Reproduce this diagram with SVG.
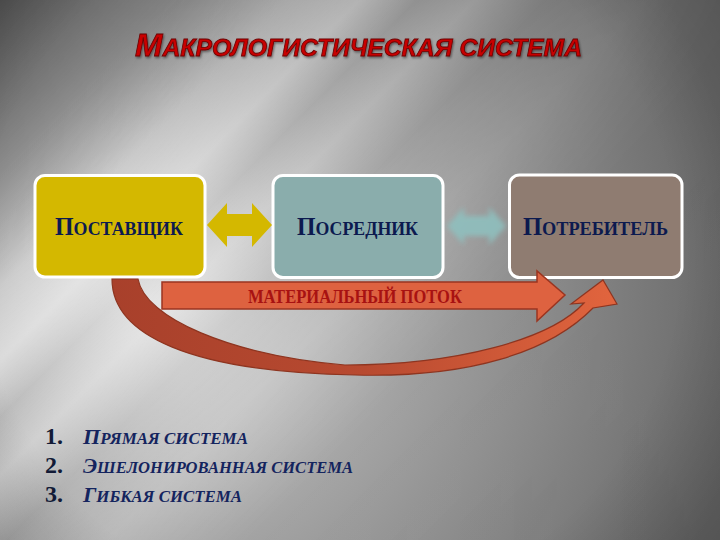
<svg xmlns="http://www.w3.org/2000/svg" width="720" height="540" viewBox="0 0 720 540">
  <defs>
    <radialGradient id="bgBase" cx="150" cy="300" r="600" gradientUnits="userSpaceOnUse">
      <stop offset="0" stop-color="#dcdcdc"/>
      <stop offset="0.4" stop-color="#a6a6a6"/>
      <stop offset="1" stop-color="#666666"/>
    </radialGradient>
    <linearGradient id="stripes" x1="0" y1="0" x2="720" y2="720" gradientUnits="userSpaceOnUse">
      <stop offset="0" stop-color="#000" stop-opacity="0.45"/>
      <stop offset="0.12" stop-color="#000" stop-opacity="0.2"/>
      <stop offset="0.2" stop-color="#fff" stop-opacity="0.25"/>
      <stop offset="0.25" stop-color="#fff" stop-opacity="0.5"/>
      <stop offset="0.29" stop-color="#fff" stop-opacity="0.12"/>
      <stop offset="0.33" stop-color="#fff" stop-opacity="0.4"/>
      <stop offset="0.38" stop-color="#fff" stop-opacity="0.08"/>
      <stop offset="0.45" stop-color="#fff" stop-opacity="0.25"/>
      <stop offset="0.55" stop-color="#fff" stop-opacity="0"/>
      <stop offset="1" stop-color="#000" stop-opacity="0.1"/>
    </linearGradient>
    <linearGradient id="fadeX" x1="0" y1="0" x2="1" y2="0">
      <stop offset="0" stop-color="#fff"/>
      <stop offset="0.55" stop-color="#fff" stop-opacity="0.6"/>
      <stop offset="1" stop-color="#fff" stop-opacity="0.1"/>
    </linearGradient>
    <mask id="stripeMask">
      <rect width="720" height="540" fill="url(#fadeX)"/>
    </mask>
    <radialGradient id="vignette" cx="330" cy="260" r="580" gradientUnits="userSpaceOnUse">
      <stop offset="0.6" stop-color="#000" stop-opacity="0"/>
      <stop offset="1" stop-color="#000" stop-opacity="0.3"/>
    </radialGradient>
    <linearGradient id="curveFill" x1="110" y1="0" x2="620" y2="0" gradientUnits="userSpaceOnUse">
      <stop offset="0" stop-color="#a8402b"/>
      <stop offset="0.5" stop-color="#b84a30"/>
      <stop offset="1" stop-color="#e2653e"/>
    </linearGradient>
    <filter id="soft" x="-20%" y="-20%" width="140%" height="140%">
      <feGaussianBlur stdDeviation="2.5"/>
    </filter>
    <filter id="shadow" x="-10%" y="-10%" width="120%" height="130%">
      <feDropShadow dx="1" dy="1.5" stdDeviation="1" flood-color="#000" flood-opacity="0.45"/>
    </filter>
  </defs>
  <style>
    .box { stroke: #ffffff; stroke-width: 3; }
    .lbl { font-family: "Liberation Serif", "DejaVu Serif", serif; font-weight: bold; fill: #0c1a4f; }
    .title { font-family: "Liberation Sans", "DejaVu Sans", sans-serif; font-weight: bold; font-style: italic; fill: #c80000; stroke: #6a0000; stroke-width: 0.8; }
    .item { font-family: "Liberation Serif", "DejaVu Serif", serif; font-weight: bold; font-style: italic; fill: #14245e; }
    .num { font-family: "Liberation Serif", "DejaVu Serif", serif; font-weight: bold; fill: #121a36; font-size: 24px; }
    .flow { fill: #de6240; stroke: #9b3520; stroke-width: 1.5; }
  </style>

  <!-- background -->
  <rect width="720" height="540" fill="url(#bgBase)"/>
  <rect width="720" height="540" fill="url(#stripes)" mask="url(#stripeMask)"/>
  <rect width="720" height="540" fill="url(#vignette)"/>

  <!-- title -->
  <text class="title" x="135" y="56" textLength="447" lengthAdjust="spacingAndGlyphs" filter="url(#shadow)"><tspan font-size="32">М</tspan><tspan font-size="24">АКРОЛОГИСТИЧЕСКАЯ СИСТЕМА</tspan></text>

  <!-- nodes -->
  <g id="node-postavshchik">
    <rect class="box" x="35" y="175.5" width="170" height="101.5" rx="10" fill="#d4b800"/>
    <text class="lbl" x="55" y="235" textLength="128" lengthAdjust="spacingAndGlyphs"><tspan font-size="26">П</tspan><tspan font-size="19.5">ОСТАВЩИК</tspan></text>
  </g>
  <g id="node-posrednik">
    <rect class="box" x="273" y="175.5" width="170" height="102" rx="10" fill="#8aadac"/>
    <text class="lbl" x="297" y="235" textLength="121" lengthAdjust="spacingAndGlyphs"><tspan font-size="26">П</tspan><tspan font-size="19.5">ОСРЕДНИК</tspan></text>
  </g>
  <g id="node-potrebitel">
    <rect class="box" x="509.5" y="175" width="172.5" height="102.5" rx="10" fill="#8f7c71"/>
    <text class="lbl" x="523" y="235" textLength="145" lengthAdjust="spacingAndGlyphs"><tspan font-size="26">П</tspan><tspan font-size="19.5">ОТРЕБИТЕЛЬ</tspan></text>
  </g>

  <!-- connectors -->
  <g id="connectors">
    <path id="dbl-yellow" d="M207,225 L227,203 L227,214 L252,214 L252,203 L272,225 L252,247 L252,236 L227,236 L227,247 Z" fill="#d4b800"/>
    <path id="dbl-teal" d="M447,226 L464,207 L464,216 L489,216 L489,207 L506,226 L489,245 L489,236 L464,236 L464,245 Z" fill="#8fbfbe" filter="url(#soft)" opacity="0.9"/>
    <path id="curve" d="M112,279 C112,335 190,372 355,375 C470,378 550,352 593,308 L617,304 L603,280 L571,304 L584,303 C550,340 455,365 345,365 C230,355 145,318 138,279 Z" fill="url(#curveFill)" stroke="#8e3520" stroke-width="1.2"/>
    <path id="flow" class="flow" d="M162,282 L537,282 L537,271 L565,295 L537,321 L537,309 L162,309 Z"/>
    <text x="248" y="303" font-family="Liberation Serif, DejaVu Serif, serif" font-weight="bold" font-size="19" fill="#a81212" textLength="214" lengthAdjust="spacingAndGlyphs">МАТЕРИАЛЬНЫЙ ПОТОК</text>
  </g>

  <!-- list -->
  <g id="list">
    <text class="num" x="45" y="444">1.</text>
    <text class="item" x="83" y="444" textLength="165" lengthAdjust="spacingAndGlyphs"><tspan font-size="21">П</tspan><tspan font-size="16">РЯМАЯ СИСТЕМА</tspan></text>
    <text class="num" x="45" y="473">2.</text>
    <text class="item" x="83" y="473" textLength="270" lengthAdjust="spacingAndGlyphs"><tspan font-size="21">Э</tspan><tspan font-size="16">ШЕЛОНИРОВАННАЯ СИСТЕМА</tspan></text>
    <text class="num" x="45" y="502">3.</text>
    <text class="item" x="83" y="502" textLength="159" lengthAdjust="spacingAndGlyphs"><tspan font-size="21">Г</tspan><tspan font-size="16">ИБКАЯ СИСТЕМА</tspan></text>
  </g>
</svg>
